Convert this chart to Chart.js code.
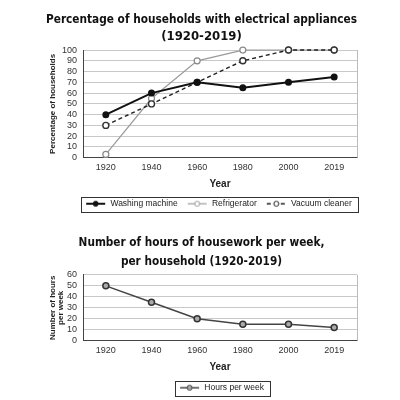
<!DOCTYPE html>
<html>
<head>
<meta charset="utf-8">
<script src="https://cdn.jsdelivr.net/npm/chart.js@4.4.1/dist/chart.umd.min.js"></script>
<style>
  html, body { margin: 0; padding: 0; background: #fff; }
  .box { position: relative; width: 400px; }
</style>
</head>
<body>
<div class="box" style="height:215px"><canvas id="appliances" width="400" height="215"></canvas></div>
<div class="box" style="height:185px"><canvas id="housework" width="400" height="185"></canvas></div>
<script>
// data
const years = ['1920', '1940', '1960', '1980', '2000', '2019'];
const washingMachine = [40, 60, 70, 65, 70, 75];
const refrigerator = [3, 55, 90, 100, 100, 100];
const vacuumCleaner = [30, 50, 70, 90, 100, 100];
const hoursPerWeek = [50, 35, 20, 15, 15, 12];

const titleFont = "'Liberation Sans Narrow', 'DejaVu Sans Condensed', 'Roboto Condensed', sans-serif";
const textFont = "'Liberation Sans', Arial, sans-serif";

// little line + circle picture for each legend entry
function legendIcon(color, dash, fill, lineWidth) {
  const c = document.createElement('canvas');
  c.width = 24; c.height = 8;
  const ctx = c.getContext('2d');
  ctx.strokeStyle = color;
  ctx.lineWidth = lineWidth;
  ctx.setLineDash(dash);
  ctx.beginPath(); ctx.moveTo(4, 4); ctx.lineTo(23, 4); ctx.stroke();
  ctx.setLineDash([]);
  ctx.lineWidth = 1;
  ctx.beginPath(); ctx.arc(13.5, 4, 2.5, 0, Math.PI * 2);
  ctx.fillStyle = fill; ctx.fill(); ctx.stroke();
  return c;
}

// move legend, draw box round it, draw right edge of plot
const framePlugin = {
  id: 'frame',
  afterLayout(chart, args, opts) {
    const lg = chart.legend;
    if (!lg) return;
    const dx = opts.legendCenter ? opts.legendCenter - (lg.left + lg.right) / 2 : 0;
    const dy = opts.legendDown || 0;
    lg.left += dx; lg.right += dx;
    lg.top += dy; lg.bottom += dy;
  },
  afterDraw(chart) {
    const ctx = chart.ctx, a = chart.chartArea;
    ctx.save();
    ctx.strokeStyle = '#bbb';
    ctx.lineWidth = 1;
    ctx.beginPath(); ctx.moveTo(a.right + 0.5, a.top); ctx.lineTo(a.right + 0.5, a.bottom); ctx.stroke();
    const hb = chart.legend.legendHitBoxes;
    if (hb && hb.length) {
      let l = Infinity, r = -Infinity, t = Infinity, b = -Infinity;
      hb.forEach(h => {
        l = Math.min(l, h.left); r = Math.max(r, h.left + h.width);
        t = Math.min(t, h.top); b = Math.max(b, h.top + h.height);
      });
      ctx.strokeStyle = '#333';
      ctx.strokeRect(Math.round(l - 1) + 0.5, Math.round(t - 3) + 0.5, Math.round(r - l + 7), Math.round(b - t + 6));
    }
    ctx.restore();
  }
};

function baseScales(yMax, yTitle) {
  return {
    x: {
      offset: true,
      grid: { display: false, drawTicks: false },
      border: { display: true, color: '#444' },
      ticks: { color: '#333', font: { family: textFont, size: 9 }, padding: 4 },
      title: { display: true, text: 'Year', color: '#222', font: { family: textFont, size: 10, weight: 'bold' }, padding: { top: 2, bottom: 0 } }
    },
    y: {
      min: 0, max: yMax,
      afterFit: s => { s.width = 37; },
      grid: { color: '#c8c8c8', drawTicks: false },
      border: { color: '#444' },
      ticks: { stepSize: 10, autoSkip: false, color: '#333', font: { family: textFont, size: 9, lineHeight: 0.8 }, padding: 6 },
      title: { display: true, text: yTitle, color: '#222', font: { family: textFont, size: 8, weight: 'bold', lineHeight: 1.1 }, padding: 2 }
    }
  };
}

function legendLabels() {
  return {
    usePointStyle: true,
    pointStyleWidth: 24,
    color: '#222',
    padding: 6,
    font: { family: textFont, size: 8.5 },
    sort: (a, b) => a.datasetIndex - b.datasetIndex,
    generateLabels(chart) {
      const items = Chart.defaults.plugins.legend.labels.generateLabels(chart);
      items.forEach(it => {
        const ds = chart.data.datasets[it.datasetIndex];
        it.pointStyle = legendIcon(ds.borderColor, ds.borderDash || [], ds.pointBackgroundColor, ds.borderWidth);
      });
      return items;
    }
  };
}

new Chart(document.getElementById('appliances'), {
  type: 'line',
  data: {
    labels: years,
    datasets: [
      { label: 'Washing machine', data: washingMachine, borderColor: '#111', borderWidth: 2,
        pointRadius: 2.5, pointBackgroundColor: '#111', pointBorderColor: '#111', order: 0, clip: false },
      { label: 'Refrigerator', data: refrigerator, borderColor: '#9a9a9a', borderWidth: 1.2,
        pointRadius: 3, pointBackgroundColor: '#fff', pointBorderColor: '#888', order: 2, clip: false },
      { label: 'Vacuum cleaner', data: vacuumCleaner, borderColor: '#222', borderWidth: 1.4, borderDash: [4, 3],
        pointRadius: 3, pointBackgroundColor: '#fff', pointBorderColor: '#333', order: 1, clip: false }
    ]
  },
  options: {
    responsive: false,
    animation: false,
    layout: { padding: { left: 46, right: 43, top: 2, bottom: 0 } },
    scales: baseScales(100, 'Percentage of households'),
    plugins: {
      title: { display: true, text: ['Percentage of households with electrical appliances', '(1920-2019)'],
        color: '#111', font: { family: titleFont, size: 13, weight: 'bold', lineHeight: 1.31 }, padding: { top: 9.5, bottom: 4.5 } },
      legend: { position: 'bottom', labels: legendLabels() },
      tooltip: { enabled: false },
      frame: { legendCenter: 217, legendDown: 3 }
    }
  },
  plugins: [framePlugin]
});

new Chart(document.getElementById('housework'), {
  type: 'line',
  data: {
    labels: years,
    datasets: [
      { label: 'Hours per week', data: hoursPerWeek, borderColor: '#444', borderWidth: 1.5,
        pointRadius: 3, pointBackgroundColor: '#aaa', pointBorderColor: '#333', clip: false }
    ]
  },
  options: {
    responsive: false,
    animation: false,
    layout: { padding: { left: 46, right: 43, top: 2, bottom: 2 } },
    scales: baseScales(60, ['Number of hours', 'per week']),
    plugins: {
      title: { display: true, text: ['Number of hours of housework per week,', 'per household (1920-2019)'],
        color: '#111', font: { family: titleFont, size: 11.7, weight: 'bold', lineHeight: 1.62 }, padding: { top: 16.5, bottom: 3.5 } },
      legend: { position: 'bottom', labels: legendLabels() },
      tooltip: { enabled: false },
      frame: { legendCenter: 220, legendDown: 4 }
    }
  },
  plugins: [framePlugin]
});
</script>
</body>
</html>
